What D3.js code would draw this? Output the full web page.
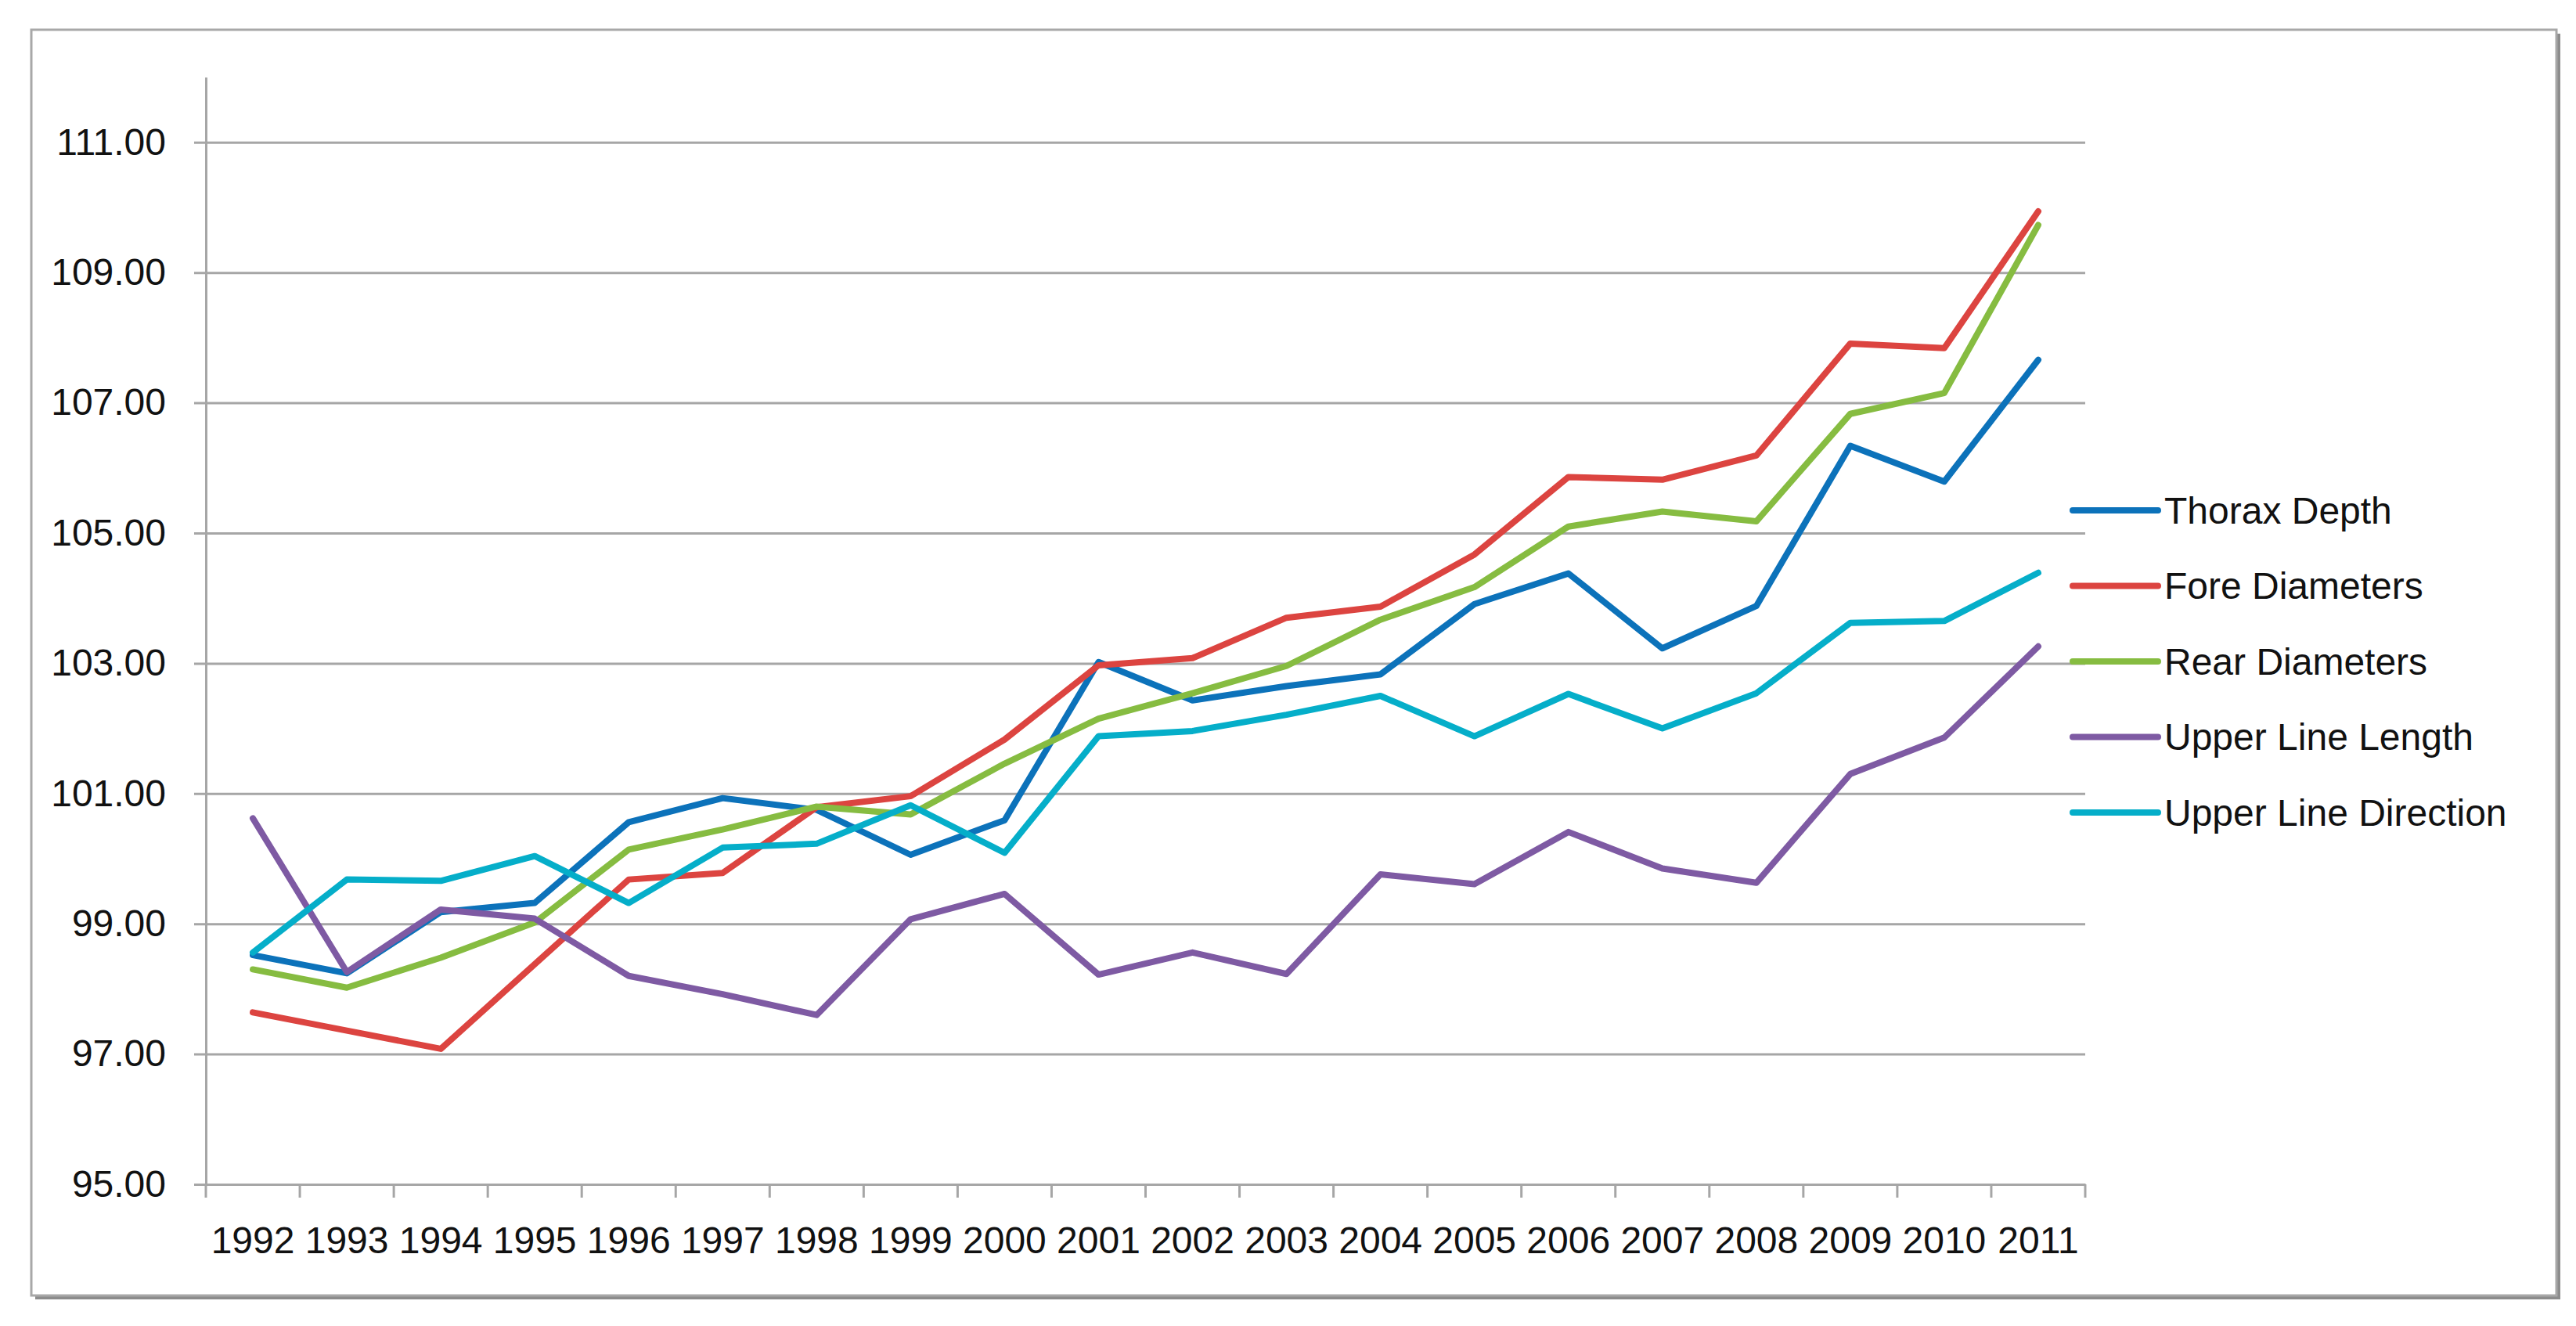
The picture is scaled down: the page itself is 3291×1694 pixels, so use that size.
<!DOCTYPE html>
<html>
<head>
<meta charset="utf-8">
<script src="https://cdn.jsdelivr.net/npm/d3@7"></script>
<style>
  body { margin: 0; background: #fff; }
  text { font-family: "Liberation Sans", Arial, sans-serif; fill: #111; }
</style>
</head>
<body>
<svg id="chart" width="3291" height="1694"></svg>
<script>
// Values
let years = ["1992", "1993", "1994", "1995", "1996", "1997", "1998", "1999", "2000", "2001",
             "2002", "2003", "2004", "2005", "2006", "2007", "2008", "2009", "2010", "2011"];

let thoraxDepth = [98.52, 98.24, 99.18, 99.32, 100.56, 100.93, 100.75, 100.06, 100.59, 103.02,
                   102.43, 102.65, 102.83, 103.91, 104.38, 103.23, 103.88, 106.34, 105.79, 107.66];
let foreDiameters = [97.64, 97.36, 97.08, 98.38, 99.68, 99.78, 100.79, 100.96, 101.83, 102.97,
                     103.08, 103.70, 103.87, 104.67, 105.86, 105.82, 106.19, 107.91, 107.84, 109.94];
let rearDiameters = [98.30, 98.02, 98.48, 99.02, 100.14, 100.45, 100.80, 100.68, 101.46, 102.15,
                     102.54, 102.96, 103.67, 104.17, 105.10, 105.33, 105.18, 106.83, 107.15, 109.73];
let upperLineLength = [100.62, 98.26, 99.22, 99.08, 98.20, 97.92, 97.60, 99.07, 99.46, 98.22,
                       98.56, 98.23, 99.76, 99.61, 100.41, 99.85, 99.63, 101.30, 101.86, 103.26];
let upperLineDirection = [98.56, 99.68, 99.66, 100.04, 99.32, 100.17, 100.23, 100.82, 100.09, 101.88,
                          101.96, 102.21, 102.50, 101.88, 102.53, 102.00, 102.54, 103.62, 103.65, 104.39];

let seriesNames = ["Thorax Depth", "Fore Diameters", "Rear Diameters", "Upper Line Length", "Upper Line Direction"];
let seriesValues = [thoraxDepth, foreDiameters, rearDiameters, upperLineLength, upperLineDirection];
let seriesColors = ["#0c72ba", "#dc4440", "#86bc41", "#7e5aa3", "#05aec9"];

let yTicks = [95, 97, 99, 101, 103, 105, 107, 109, 111];
let yMin = 95, yMax = 112;

let svg = d3.select("#chart");

// frame with a small drop shadow
svg.append("rect")
    .attr("x", 45).attr("y", 43)
    .attr("width", 3226).attr("height", 1617)
    .attr("fill", "#8c8c8c");
svg.append("rect")
    .attr("x", 40).attr("y", 38)
    .attr("width", 3226).attr("height", 1617)
    .attr("fill", "#fff")
    .attr("stroke", "#a8a8a8")
    .attr("stroke-width", 3);

let plot = {left: 263, right: 2664, top: 98.6, bottom: 1513};

let x = d3.scaleBand()
    .domain(years)
    .range([plot.left, plot.right]);

let y = d3.scaleLinear()
    .domain([yMin, yMax])
    .range([plot.bottom, plot.top]);

// gridlines (they also make the small ticks left of the axis)
let grid = svg.append("g")
    .attr("transform", "translate(" + (plot.left - 15) + ",0)")
    .call(d3.axisRight(y).tickValues(yTicks).tickSize(plot.right - plot.left + 15).tickFormat(""));
grid.select(".domain").remove();
grid.selectAll(".tick line").attr("stroke", "#a6a6a6").attr("stroke-width", 3);

// y axis with labels
let yAxis = svg.append("g")
    .attr("transform", "translate(" + plot.left + ",0)")
    .call(d3.axisLeft(y).tickValues(yTicks).tickSize(0).tickPadding(51).tickFormat(d3.format(".2f")));
yAxis.select(".domain").attr("stroke", "#a6a6a6").attr("stroke-width", 3);
yAxis.selectAll("text").attr("font-size", 48).attr("font-family", "Liberation Sans, Arial, sans-serif").attr("fill", "#111");

// x axis with labels centred in each band
let xAxis = svg.append("g")
    .attr("transform", "translate(0," + plot.bottom + ")")
    .call(d3.axisBottom(x).tickSize(0).tickPadding(54));
xAxis.select(".domain").attr("stroke", "#a6a6a6").attr("stroke-width", 3);
xAxis.selectAll("text").attr("font-size", 48).attr("font-family", "Liberation Sans, Arial, sans-serif").attr("fill", "#111");

// tick marks on the band boundaries
let boundaries = years.map(d => x(d)).concat([x(years[years.length - 1]) + x.bandwidth()]);
svg.append("g")
    .selectAll("line")
    .data(boundaries)
    .enter().append("line")
    .attr("x1", d => d).attr("x2", d => d)
    .attr("y1", plot.bottom).attr("y2", plot.bottom + 17)
    .attr("stroke", "#a6a6a6")
    .attr("stroke-width", 3);

let line = d3.line()
    .x((d, i) => x(years[i]) + x.bandwidth() / 2)
    .y(d => y(d));

svg.append("g")
    .selectAll("path")
    .data(seriesValues)
    .enter().append("path")
    .attr("fill", "none")
    .attr("stroke", (d, i) => seriesColors[i])
    .attr("stroke-width", 8)
    .attr("stroke-linejoin", "round")
    .attr("stroke-linecap", "round")
    .attr("d", line);

// legend
let legend = svg.append("g")
    .selectAll("g")
    .data(seriesNames)
    .enter().append("g")
    .attr("transform", (d, i) => "translate(2648," + (652 + i * 96.5) + ")");

legend.append("line")
    .attr("x1", 0).attr("x2", 109)
    .attr("stroke", (d, i) => seriesColors[i])
    .attr("stroke-width", 8)
    .attr("stroke-linecap", "round");

legend.append("text")
    .attr("x", 117)
    .attr("dy", "0.35em")
    .attr("font-size", 48)
    .text(d => d);
</script>
</body>
</html>
